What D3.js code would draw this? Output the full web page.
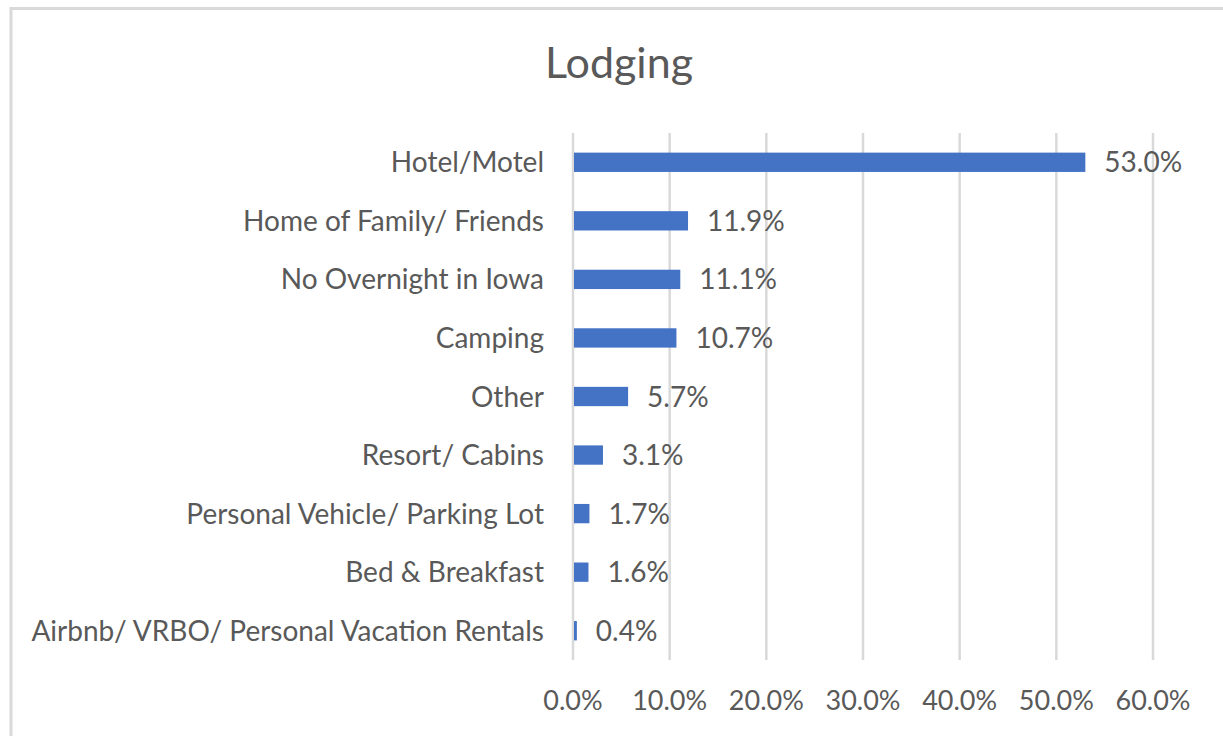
<!DOCTYPE html>
<html>
<head>
<meta charset="utf-8">
<script src="https://cdn.jsdelivr.net/npm/d3@7"></script>
<style>
  html, body { margin: 0; padding: 0; background: #fff; }
  svg { display: block; }
  text { font-family: Lato, "Open Sans", sans-serif; fill: #595959; }
</style>
</head>
<body>
<svg id="chart" width="1223" height="736"></svg>
<script>
const title = "Lodging";
const categories = [
  "Hotel/Motel",
  "Home of Family/ Friends",
  "No Overnight in Iowa",
  "Camping",
  "Other",
  "Resort/ Cabins",
  "Personal Vehicle/ Parking Lot",
  "Bed & Breakfast",
  "Airbnb/ VRBO/ Personal Vacation Rentals"
];
const values = [0.530, 0.119, 0.111, 0.107, 0.057, 0.031, 0.017, 0.016, 0.004];
const tickValues = [0, 0.1, 0.2, 0.3, 0.4, 0.5, 0.6];

const svg = d3.select("#chart");
const W = 1223, H = 736;

// chart border (top + left visible)
svg.append("rect")
  .attr("x", 11).attr("y", 8.5)
  .attr("width", W + 20).attr("height", H + 20)
  .attr("fill", "#fff")
  .attr("stroke", "#d9d9d9").attr("stroke-width", 3);

const x = d3.scaleLinear().domain([0, 0.6]).range([573, 1153]);
const y = d3.scaleBand().domain(categories).range([133, 660]).paddingInner(0.67).paddingOuter(0.335);

// gridlines
svg.append("g").selectAll("line").data(tickValues).join("line")
  .attr("x1", d => x(d)).attr("x2", d => x(d))
  .attr("y1", 133).attr("y2", 660)
  .attr("stroke", "#d9d9d9").attr("stroke-width", 2.5);

// bars
svg.append("g").selectAll("rect").data(values).join("rect")
  .attr("x", x(0) + 1)
  .attr("y", (d, i) => y(categories[i]))
  .attr("width", d => Math.max(1.5, x(d) - x(0) - 1))
  .attr("height", y.bandwidth())
  .attr("fill", "#4472C4");

// data labels
const fmt = d3.format(".1%");
svg.append("g").selectAll("text").data(values).join("text")
  .attr("x", d => x(d) + 19)
  .attr("y", (d, i) => y(categories[i]) + y.bandwidth() / 2)
  .attr("dy", "0.36em")
  .attr("font-size", 28)
  .text(d => fmt(d));

// category labels
svg.append("g").selectAll("text").data(categories).join("text")
  .attr("x", 544)
  .attr("y", d => y(d) + y.bandwidth() / 2)
  .attr("dy", "0.36em")
  .attr("text-anchor", "end")
  .attr("font-size", 28)
  .text(d => d);

// x axis tick labels
svg.append("g").selectAll("text").data(tickValues).join("text")
  .attr("x", d => x(d))
  .attr("y", 700)
  .attr("dy", "0.36em")
  .attr("text-anchor", "middle")
  .attr("font-size", 27)
  .text(d => fmt(d));

// title
svg.append("text")
  .attr("x", 619).attr("y", 78)
  .attr("text-anchor", "middle")
  .attr("font-size", 43)
  .text(title);
</script>
</body>
</html>
